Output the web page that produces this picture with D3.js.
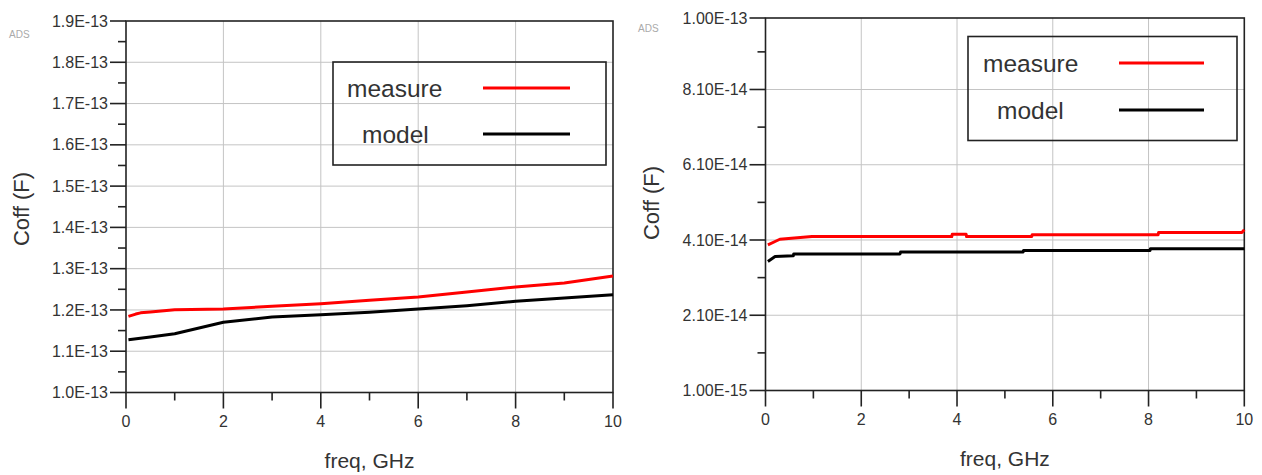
<!DOCTYPE html>
<html>
<head>
<meta charset="utf-8">
<script src="https://cdn.jsdelivr.net/npm/d3@7"></script>
<style>
  html, body { margin: 0; padding: 0; background: #fff; }
  svg { display: block; font-family: "Liberation Sans", Arial, sans-serif; }
</style>
</head>
<body>
<svg id="chart" width="1262" height="475"></svg>
<script>
// ---------- data ----------
const seriesNames = ["measure", "model"];

// Left panel
const leftFreq = [0.05, 0.2, 0.3, 0.5, 1.0, 2.0, 3.0, 4.0, 5.0, 6.0, 7.0, 8.0, 9.0, 10.0];
const leftMeasure = [1.1845e-13, 1.190e-13, 1.193e-13, 1.195e-13, 1.2007e-13, 1.2024e-13, 1.2087e-13, 1.2153e-13, 1.2233e-13, 1.2316e-13, 1.2437e-13, 1.2558e-13, 1.2655e-13, 1.282e-13];
const leftModelFreq = [0.05, 0.5, 1.0, 2.0, 3.0, 4.0, 5.0, 6.0, 7.0, 8.0, 9.0, 10.0];
const leftModel = [1.128e-13, 1.1345e-13, 1.1425e-13, 1.170e-13, 1.183e-13, 1.1886e-13, 1.1942e-13, 1.2024e-13, 1.2104e-13, 1.2209e-13, 1.2291e-13, 1.237e-13];
const leftYTicks = [1.0e-13, 1.1e-13, 1.2e-13, 1.3e-13, 1.4e-13, 1.5e-13, 1.6e-13, 1.7e-13, 1.8e-13, 1.9e-13];
const leftYLabels = ["1.0E-13", "1.1E-13", "1.2E-13", "1.3E-13", "1.4E-13", "1.5E-13", "1.6E-13", "1.7E-13", "1.8E-13", "1.9E-13"];

// Right panel
const rightMeasureFreq = [0.05, 0.2, 0.3, 0.97, 3.89, 3.9, 4.19, 4.2, 5.56, 5.57, 8.2, 8.21, 9.95, 10.0];
const rightMeasure = [3.97e-14, 4.06e-14, 4.12e-14, 4.19e-14, 4.19e-14, 4.25e-14, 4.25e-14, 4.19e-14, 4.19e-14, 4.24e-14, 4.24e-14, 4.30e-14, 4.30e-14, 4.37e-14];
const rightModelFreq = [0.05, 0.2, 0.58, 0.59, 2.81, 2.82, 5.38, 5.39, 8.03, 8.04, 10.0];
const rightModel = [3.53e-14, 3.66e-14, 3.68e-14, 3.73e-14, 3.73e-14, 3.78e-14, 3.78e-14, 3.82e-14, 3.82e-14, 3.87e-14, 3.87e-14];
const rightYTicks = [1.0e-15, 2.1e-14, 4.1e-14, 6.1e-14, 8.1e-14, 1.0e-13];
const rightYLabels = ["1.00E-15", "2.10E-14", "4.10E-14", "6.10E-14", "8.10E-14", "1.00E-13"];
const rightYMinor = [1.1e-14, 3.1e-14, 5.1e-14, 7.1e-14, 9.1e-14];

// Shared x axis
const xMajor = [0, 2, 4, 6, 8, 10];
const xMinor = [1, 3, 5, 7, 9];
const xTitle = "freq, GHz";
const yTitle = "Coff (F)";
const seriesColors = ["#ff0000", "#000000"];

// ---------- drawing ----------
const svg = d3.select("#chart");

function drawPanel(p) {
  const g = svg.append("g");
  const x = d3.scaleLinear().domain([0, 10]).range([p.x0, p.x1]);
  const y = d3.scaleLinear().domain(p.yDomain).range([p.y0, p.y1]);

  // grid
  g.selectAll(".vg").data(xMajor.slice(1, -1)).enter().append("line")
    .attr("x1", d => x(d)).attr("x2", d => x(d))
    .attr("y1", p.y1).attr("y2", p.y0)
    .attr("stroke", "#c4c4c4").attr("stroke-width", 1);
  g.selectAll(".hg").data(p.yTicks.slice(1, -1)).enter().append("line")
    .attr("x1", p.x0).attr("x2", p.x1)
    .attr("y1", d => y(d)).attr("y2", d => y(d))
    .attr("stroke", "#c4c4c4").attr("stroke-width", 1);

  // frame
  g.append("rect").attr("x", p.x0).attr("y", p.y1)
    .attr("width", p.x1 - p.x0).attr("height", p.y0 - p.y1)
    .attr("fill", "none").attr("stroke", "#222").attr("stroke-width", 1.6);

  // y ticks
  g.selectAll(".ymaj").data(p.yTicks).enter().append("line")
    .attr("x1", p.x0 - 16).attr("x2", p.x0)
    .attr("y1", d => y(d)).attr("y2", d => y(d))
    .attr("stroke", "#222").attr("stroke-width", 1.6);
  g.selectAll(".ymin").data(p.yMinor).enter().append("line")
    .attr("x1", p.x0 - 8).attr("x2", p.x0)
    .attr("y1", d => y(d)).attr("y2", d => y(d))
    .attr("stroke", "#222").attr("stroke-width", 1.6);
  g.selectAll(".ylab").data(p.yTicks).enter().append("text")
    .attr("x", p.x0 - 18).attr("y", d => y(d)).attr("dy", "0.35em")
    .attr("text-anchor", "end").attr("font-size", 16).attr("fill", "#333")
    .text((d, i) => p.yLabels[i]);

  // x ticks
  g.selectAll(".xmaj").data(xMajor).enter().append("line")
    .attr("x1", d => x(d)).attr("x2", d => x(d))
    .attr("y1", p.y0).attr("y2", p.y0 + 16)
    .attr("stroke", "#222").attr("stroke-width", 1.6);
  g.selectAll(".xmin").data(xMinor).enter().append("line")
    .attr("x1", d => x(d)).attr("x2", d => x(d))
    .attr("y1", p.y0).attr("y2", p.y0 + 8)
    .attr("stroke", "#222").attr("stroke-width", 1.6);
  g.selectAll(".xlab").data(xMajor).enter().append("text")
    .attr("x", d => x(d)).attr("y", p.y0 + 34)
    .attr("text-anchor", "middle").attr("font-size", 16).attr("fill", "#333")
    .text(d => d);

  // titles
  g.append("text").attr("x", (p.x0 + p.x1) / 2).attr("y", p.y0 + 75)
    .attr("text-anchor", "middle").attr("font-size", 21).attr("fill", "#333")
    .text(xTitle);
  g.append("text")
    .attr("transform", `translate(${p.yTitleX},${p.yTitleY}) rotate(-90)`)
    .attr("text-anchor", "middle").attr("font-size", 22).attr("fill", "#333")
    .text(yTitle);
  g.append("text").attr("x", p.adsX).attr("y", p.adsY)
    .attr("font-size", 10).attr("fill", "#aaa").text("ADS");

  // series
  const line = d3.line().x(d => x(d[0])).y(d => y(d[1]));
  p.series.forEach((s, i) => {
    const pts = s.f.map((f, k) => [f, s.v[k]]);
    g.append("path").datum(pts).attr("d", line)
      .attr("fill", "none").attr("stroke", seriesColors[i])
      .attr("stroke-width", 3).attr("stroke-linejoin", "round");
  });

  // legend
  const L = p.legend;
  g.append("rect").attr("x", L.x).attr("y", L.y).attr("width", L.w).attr("height", L.h)
    .attr("fill", "none").attr("stroke", "#222").attr("stroke-width", 1.6);
  seriesNames.forEach((name, i) => {
    const ly = L.rows[i];
    g.append("text").attr("x", L.textX[i]).attr("y", ly).attr("dy", "0.35em")
      .attr("font-size", 24.5).attr("fill", "#333").text(name);
    g.append("line").attr("x1", L.lx1).attr("x2", L.lx2)
      .attr("y1", ly).attr("y2", ly)
      .attr("stroke", seriesColors[i]).attr("stroke-width", 3);
  });
}

const leftMinor = leftYTicks.slice(0, -1).map((d, i) => (d + leftYTicks[i + 1]) / 2);

drawPanel({
  x0: 126, x1: 613, y0: 392.5, y1: 21,
  yDomain: [1.0e-13, 1.9e-13],
  yTicks: leftYTicks, yLabels: leftYLabels, yMinor: leftMinor,
  yTitleX: 29, yTitleY: 209, adsX: 9, adsY: 38,
  series: [{ f: leftFreq, v: leftMeasure }, { f: leftModelFreq, v: leftModel }],
  legend: { x: 333, y: 62, w: 273, h: 103, rows: [88, 134], textX: [347, 362], lx1: 483, lx2: 570 }
});

drawPanel({
  x0: 765.5, x1: 1244.3, y0: 390.5, y1: 18,
  yDomain: [1.0e-15, 1.0e-13],
  yTicks: rightYTicks, yLabels: rightYLabels, yMinor: rightYMinor,
  yTitleX: 659, yTitleY: 203, adsX: 638, adsY: 32,
  series: [{ f: rightMeasureFreq, v: rightMeasure }, { f: rightModelFreq, v: rightModel }],
  legend: { x: 968, y: 36.5, w: 269, h: 104, rows: [63, 110], textX: [983, 997], lx1: 1119, lx2: 1204 }
});
</script>
</body>
</html>
